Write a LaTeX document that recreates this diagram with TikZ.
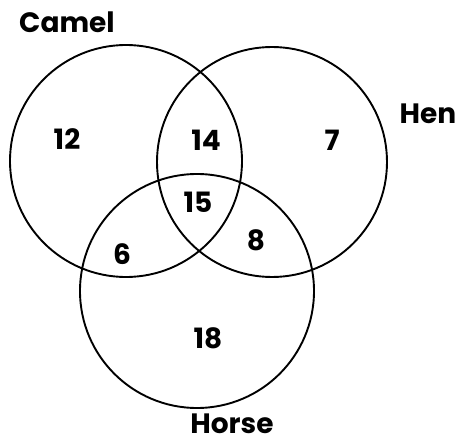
\documentclass[tikz,border=0pt]{standalone}
\usepackage{fontspec}
\setmainfont{Poppins}
\begin{document}
\begin{tikzpicture}[
    x=1pt, y=-1pt,
    ring/.style={circle, draw, line width=1.9pt, inner sep=0pt},
    count/.style={font=\fontsize{28}{28}\selectfont\bfseries, inner sep=0pt},
    setname/.style={font=\fontsize{28}{28}\selectfont\bfseries, inner sep=0pt}
  ]
  \useasboundingbox (0,0) rectangle (463,443);
  \node[ring, minimum size=232pt] (camel) at (126,161) {};
  \node[ring, minimum size=230pt] (hen) at (272,162) {};
  \node[ring, minimum size=234pt] (horse) at (197,291) {};
  \node[setname] (lcamel) at (67,22) {Camel};
  \node[setname] (lhen) at (428,114) {Hen};
  \node[setname] (lhorse) at (232,424) {Horse};
  \node[count] (n12) at (67,139) {12};
  \node[count] (n14) at (206,140) {14};
  \node[count] (n7) at (332,140) {7};
  \node[count] (n15) at (198,202) {15};
  \node[count] (n6) at (122,254) {6};
  \node[count] (n8) at (256,240) {8};
  \node[count] (n18) at (208,338) {18};
\end{tikzpicture}
\end{document}
